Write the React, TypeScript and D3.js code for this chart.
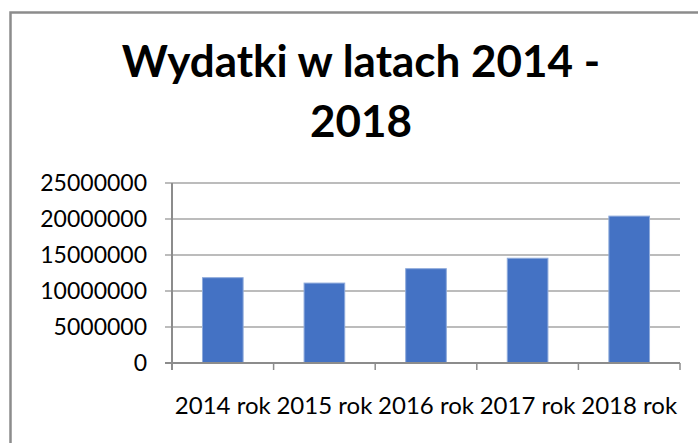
import React from "react";
import * as d3 from "d3";

const categories = ["2014 rok", "2015 rok", "2016 rok", "2017 rok", "2018 rok"];
const values = [11850000, 11100000, 13100000, 14550000, 20400000];
const yTicks = [0, 5000000, 10000000, 15000000, 20000000, 25000000];
const titleLines = ["Wydatki w latach 2014 -", "2018"];

const W = 698;
const H = 443;
const plot = { left: 172, right: 680, top: 183, bottom: 363 };

export default function App() {
  const x = d3
    .scaleBand<string>()
    .domain(categories)
    .range([plot.left, plot.right])
    .paddingInner(0)
    .paddingOuter(0);
  const y = d3.scaleLinear().domain([0, 25000000]).range([plot.bottom, plot.top]);
  const bw = x.bandwidth() / 2.5;
  const font = "Lato, 'Open Sans', sans-serif";
  const boundaries = categories.map((c) => x(c)!).concat([plot.right]);
  const titleBaselines = [77, 137];

  return (
    <div style={{ position: "absolute", left: 0, top: 0 }}>
      <svg width={W} height={H} style={{ display: "block" }}>
        <rect x={0} y={0} width={W} height={H} fill="#ffffff" />
        <rect x={10.5} y={12.5} width={800} height={600} fill="#ffffff" stroke="#8c8c8c" strokeWidth={2.5} />
        {titleLines.map((t, i) => (
          <text
            key={i}
            x={361}
            y={titleBaselines[i]}
            textAnchor="middle"
            fontFamily={font}
            fontWeight={700}
            fontSize={44}
            fill="#000"
          >
            {t}
          </text>
        ))}
        {yTicks.map((v) => (
          <g key={v}>
            {v > 0 && (
              <line x1={165} x2={plot.right} y1={y(v)} y2={y(v)} stroke="#a6a6a6" strokeWidth={1.5} />
            )}
            <text
              x={147}
              y={y(v)}
              dy="0.36em"
              textAnchor="end"
              fontFamily={font}
              fontSize={23}
              fill="#000"
            >
              {v}
            </text>
          </g>
        ))}
        {values.map((v, i) => (
          <rect
            key={i}
            x={x(categories[i])! + (x.bandwidth() - bw) / 2}
            y={y(v)}
            width={bw}
            height={plot.bottom - y(v)}
            fill="#4472c4"
            stroke="#8eaadb"
            strokeWidth={1}
          />
        ))}
        <line x1={165} x2={plot.right} y1={plot.bottom} y2={plot.bottom} stroke="#8c8c8c" strokeWidth={2} />
        <line x1={plot.left} x2={plot.left} y1={plot.top} y2={plot.bottom + 7} stroke="#8c8c8c" strokeWidth={2} />
        {boundaries.map((bx, i) => (
          <line key={i} x1={bx} x2={bx} y1={plot.bottom} y2={plot.bottom + 7} stroke="#8c8c8c" strokeWidth={1.5} />
        ))}
        {categories.map((c) => (
          <text
            key={c}
            x={x(c)! + x.bandwidth() / 2}
            y={414}
            textAnchor="middle"
            fontFamily={font}
            fontSize={24}
            fill="#000"
          >
            {c}
          </text>
        ))}
      </svg>
    </div>
  );
}
